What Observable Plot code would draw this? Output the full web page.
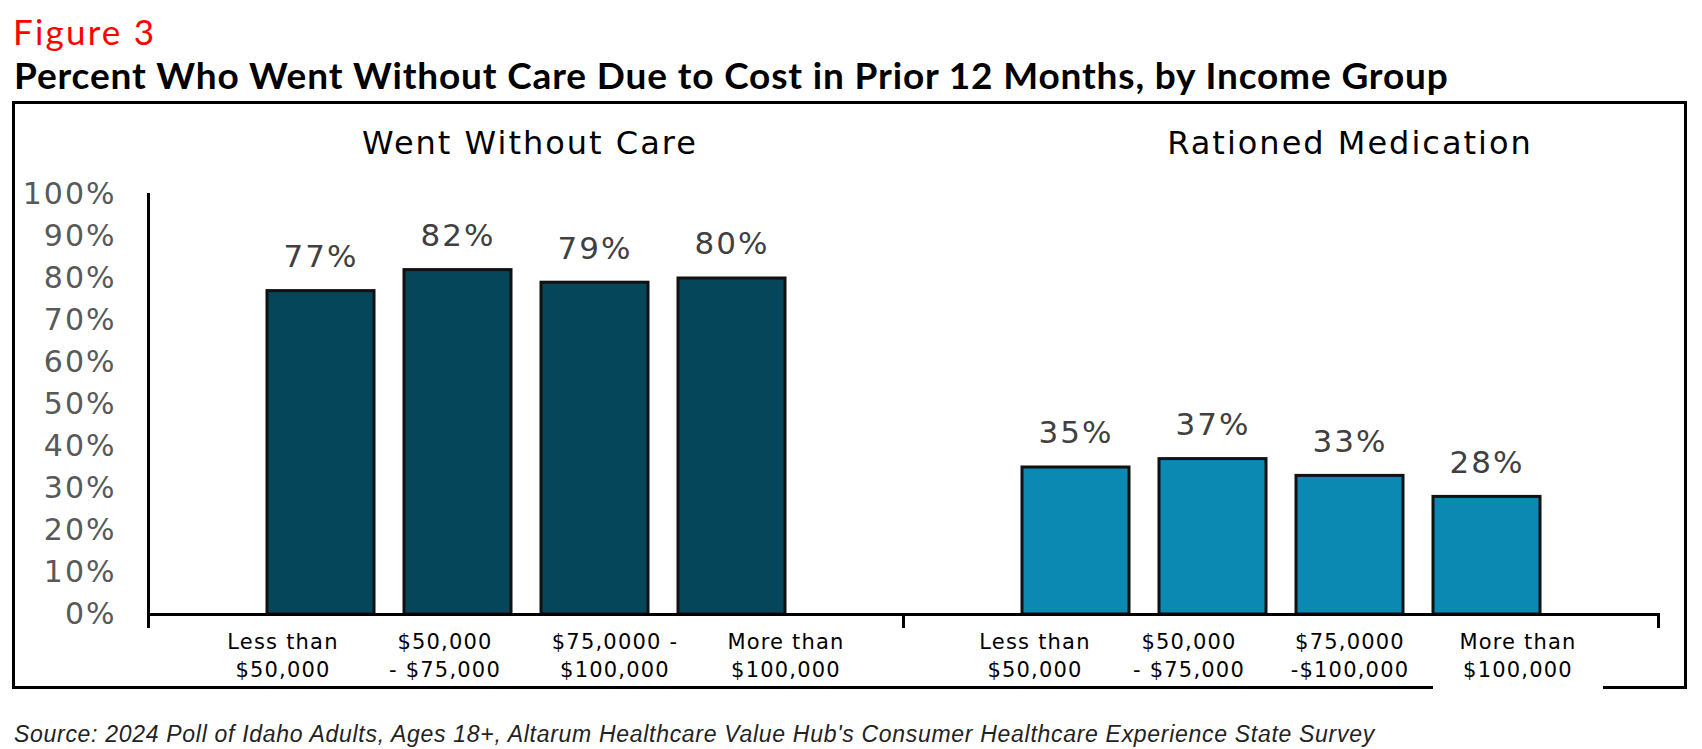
<!DOCTYPE html>
<html><head><meta charset="utf-8">
<script src="https://cdn.jsdelivr.net/npm/d3@7"></script>
<script src="https://cdn.jsdelivr.net/npm/@observablehq/plot@0.6"></script>
<style>
body{margin:0;background:#fff;width:1702px;height:749px;position:relative;overflow:hidden}
.abs{position:absolute;white-space:nowrap;line-height:1}
#fig{left:13px;top:10px;font:400 35px Lato;color:#ff0000;letter-spacing:2.2px}
#title{left:14px;top:52px;font:700 37px Lato;color:#000;letter-spacing:0.85px}
#frame{left:12px;top:101px;width:1675px;height:588px;border:3px solid #000;box-sizing:border-box}
#gap{left:1433px;top:684px;width:170px;height:7px;background:#fff}
#cap{left:14px;top:721px;font:italic 400 23px "Liberation Sans";color:#222;letter-spacing:0.7px}
</style></head><body>
<div id="chart" class="abs" style="left:0;top:0"></div>
<div id="frame" class="abs"></div>
<div id="gap" class="abs"></div>
<div id="fig" class="abs">Figure 3</div>
<div id="title" class="abs">Percent Who Went Without Care Due to Cost in Prior 12 Months, by Income Group</div>
<div id="cap" class="abs">Source: 2024 Poll of Idaho Adults, Ages 18+, Altarum Healthcare Value Hub's Consumer Healthcare Experience State Survey</div>
<script>
const panels = ["Went Without Care", "Rationed Medication"];
const groups = ["Less than $50,000", "$50,000 - $75,000", "$75,000 - $100,000", "More than $100,000"];
const wentWithoutCare = [77, 82, 79, 80];
const rationedMedication = [35, 37, 33, 28];
const leftLabels = ["Less than\n$50,000", "$50,000\n- $75,000", "$75,0000 -\n$100,000", "More than\n$100,000"];
const rightLabels = ["Less than\n$50,000", "$50,000\n- $75,000", "$75,0000\n-$100,000", "More than\n$100,000"];
// horizontal offsets of the category labels from the bar centres (labels are spread wider than bars)
const leftLabelOffsets = [-38, -13, 20, 54];
const rightLabelOffsets = [-41, -24, 0, 31];
const yTicks = [0, 10, 20, 30, 40, 50, 60, 70, 80, 90, 100];
const barColors = ["#06465A", "#0B89B3"];

const rows = [
  ...groups.map((g, i) => ({panel: panels[0], group: g, value: wentWithoutCare[i]})),
  ...groups.map((g, i) => ({panel: panels[1], group: g, value: rationedMedication[i]}))
];
const labelRows = [
  ...groups.map((g, i) => ({panel: panels[0], group: g, label: leftLabels[i], off: leftLabelOffsets[i]})),
  ...groups.map((g, i) => ({panel: panels[1], group: g, label: rightLabels[i], off: rightLabelOffsets[i]}))
];

const W = 1702, H = 700, MT = 194, MB = 86;
const plotH = H - MT - MB;

const chart = Plot.plot({
  width: W, height: H,
  marginTop: MT, marginBottom: MB, marginLeft: 147, marginRight: 44,
  style: {fontFamily: "DejaVu Sans", background: "transparent", overflow: "visible", letterSpacing: "2px"},
  fx: {domain: panels, padding: 0, axis: null},
  x: {domain: groups, paddingInner: 0.22, paddingOuter: 0.854, axis: null},
  y: {domain: [0, 100], axis: null},
  color: {domain: panels, range: barColors},
  marks: [
    Plot.barY(rows, {fx: "panel", x: "group", y: "value", fill: "panel", stroke: "#111", strokeWidth: 3}),
    Plot.text(rows, {fx: "panel", x: "group", y: "value", text: d => d.value + "%", dy: -34, fontSize: 31, fill: "#404040"}),
    Plot.ruleY([0], {stroke: "#000", strokeWidth: 3}),
    Plot.frame({anchor: "left", fx: () => panels[0], insetBottom: -12, strokeWidth: 3}),
    Plot.frame({anchor: "left", fx: () => panels[1], insetTop: plotH, insetBottom: -12, strokeWidth: 3}),
    Plot.frame({anchor: "right", fx: () => panels[1], insetTop: plotH, insetBottom: -12, strokeWidth: 3}),
    Plot.axisY({ticks: yTicks, tickSize: 0, tickPadding: 32, tickFormat: d => d + "%", fontSize: 30, fill: "#595959", label: null}),
    ...labelRows.map(r => Plot.text([r], {fx: "panel", x: "group", text: "label", frameAnchor: "bottom", dy: 62.5, dx: r.off, lineHeight: 1.33, fontSize: 21, fill: "#000"})),
    Plot.text([panels[0]], {fx: d => d, text: d => d, frameAnchor: "top", dy: -63, dx: 4, fontSize: 32, fill: "#000"}),
    Plot.text([panels[1]], {fx: d => d, text: d => d, frameAnchor: "top", dy: -63, dx: 69, fontSize: 32, fill: "#000"})
  ]
});
d3.select(chart).selectAll("g[aria-label=text]").filter(function () { return this.querySelector("tspan"); })
  .style("letter-spacing", "1.2px");
document.getElementById("chart").appendChild(chart);
</script>
</body></html>
